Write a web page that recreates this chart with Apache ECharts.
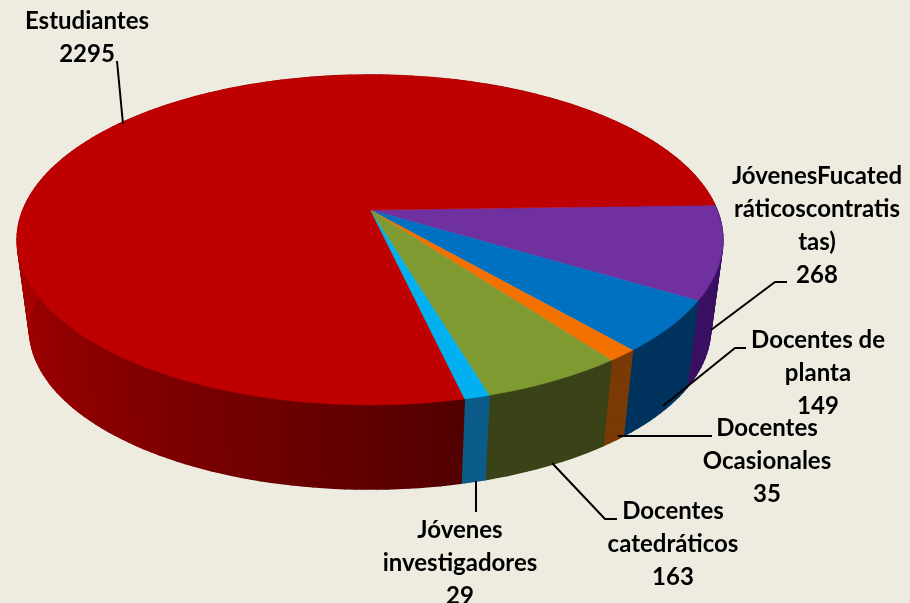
<!DOCTYPE html>
<html>

<head>
    <meta http-equiv="Content-Type" content="text/html; charset=utf-8" />
    <title>Pie 3D</title>
    <style type="text/css">
        * {
            margin: 0;
            padding: 0;
        }

        html,
        body {
            width: 100%;
            height: 100%;
            background: #EEECE1;
        }
    </style>
</head>

<body>
    <div id="main" style="width: 910px;height: 603px;"></div>
    <script type="text/javascript" src="https://cdn.jsdelivr.net/npm/echarts@6/dist/echarts.min.js"></script>
    <script type="text/javascript">
        // clockwise from the right-hand edge of the pie
        const categories = [
            'JóvenesFucated\nráticoscontratis\ntas)',
            'Docentes de\nplanta',
            'Docentes\nOcasionales',
            'Docentes\ncatedráticos',
            'Jóvenes\ninvestigadores',
            'Estudiantes'
        ];
        const values = [268, 149, 35, 163, 29, 2295];

        const topColors = ['#7030A0', '#0070C0', '#F27100', '#7F9A30', '#00B0F0', '#BE0000'];
        // wall colour from the start angle of the slice to its end angle
        const wallColors = [
            ['#3A1062', '#3A1062'],
            ['#01335F', '#01335F'],
            ['#7A3A05', '#7A3A05'],
            ['#3A4218', '#3A4218'],
            ['#0C5C8A', '#0C5C8A'],
            ['#520000', '#6E0000', '#860000', '#9A0000', '#A80000']
        ];

        // label block centre and leader line, same order as categories
        const labelPos = [[817, 226], [818, 373], [767, 461], [673, 544], [460, 563], [87, 38]];
        const leaders = [
            [[711, 330], [775, 282], [787, 282]],
            [[663, 406], [735, 348], [746, 348]],
            [[618, 436], [712, 436]],
            [[552, 463], [605, 519], [617, 519]],
            [[476, 481], [476, 512]],
            [[117, 61], [123, 124]]
        ];

        // projection of the tilted disc
        const startAngle = -1.8;
        const apex = [370, 210];
        const persp = 0.1818;
        const radX = 347;
        const radY = 159.5;
        const floorY = 300;   // apex of the lower disc
        const floorScaleX = 0.965;
        const floorScaleY = 0.97;

        const total = values.reduce((a, b) => a + b, 0);

        function sliceRange(idx) {
            let sum = 0;
            for (let i = 0; i < idx; i++) sum += values[i];
            return [startAngle + sum / total * 360, startAngle + (sum + values[idx]) / total * 360];
        }

        function rimPoint(deg) {
            const r = deg * Math.PI / 180;
            const w = 1 - persp * Math.sin(r);
            return [apex[0] + radX * Math.cos(r) / w, apex[1] + radY * Math.sin(r) / w];
        }

        function floorPoint(deg) {
            const r = deg * Math.PI / 180;
            const w = 1 - persp * Math.sin(r);
            return [apex[0] + floorScaleX * radX * Math.cos(r) / w, floorY + floorScaleY * radY * Math.sin(r) / w];
        }

        function renderWall(params, api) {
            const idx = params.dataIndex;
            const range = sliceRange(idx);
            const children = [];
            const step = 1.5;
            for (let a = range[0]; a < range[1]; a += step) {
                const b = Math.min(a + step, range[1]);
                // the far side is hidden below the top face
                const t = Math.min(1, (a - range[0]) / (Math.min(range[1], 180) - range[0]));
                const fill = echarts.color.lerp(t, wallColors[idx]);
                children.push({
                    type: 'polygon',
                    shape: { points: [rimPoint(a), rimPoint(b), floorPoint(b), floorPoint(a)] },
                    style: { fill: fill, stroke: fill, lineWidth: 1.5, lineJoin: 'round' }
                });
            }
            return { type: 'group', children: children };
        }

        function renderTop(params, api) {
            const idx = params.dataIndex;
            const range = sliceRange(idx);
            const points = [apex];
            for (let a = range[0]; a < range[1]; a += 1) points.push(rimPoint(a));
            points.push(rimPoint(range[1]));
            return {
                type: 'polygon',
                shape: { points: points },
                style: { fill: topColors[idx], stroke: topColors[idx], lineWidth: 0.5 }
            };
        }

        function renderLabel(params, api) {
            const idx = params.dataIndex;
            return {
                type: 'group',
                children: [{
                    type: 'polyline',
                    shape: { points: leaders[idx] },
                    style: { fill: 'none', stroke: '#000', lineWidth: 2 }
                }, {
                    type: 'text',
                    style: {
                        x: labelPos[idx][0],
                        y: labelPos[idx][1],
                        text: categories[idx] + '\n' + api.value(0),
                        fill: '#000',
                        font: 'bold 24px Lato',
                        lineHeight: 33,
                        align: 'center',
                        verticalAlign: 'middle'
                    }
                }]
            };
        }

        const myChart = echarts.init(document.getElementById('main'));
        const customBase = { type: 'custom', coordinateSystem: 'none', silent: true, animation: false, data: values };
        myChart.setOption({
            backgroundColor: '#EEECE1',
            animation: false,
            series: [
                Object.assign({}, customBase, { z: 1, renderItem: renderWall }),
                Object.assign({}, customBase, { z: 2, renderItem: renderTop }),
                Object.assign({}, customBase, { z: 3, renderItem: renderLabel })
            ]
        });
    </script>
</body>

</html>
